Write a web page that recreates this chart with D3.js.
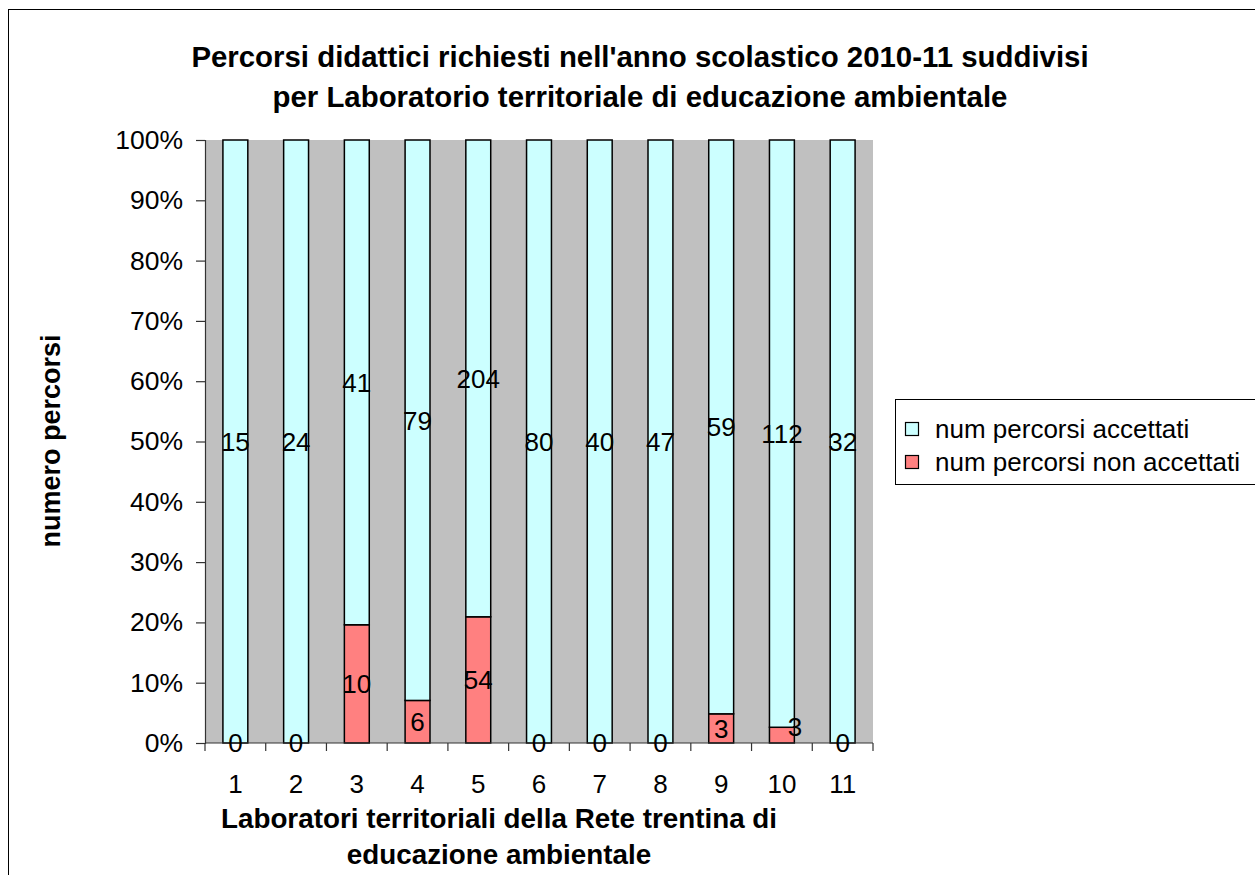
<!DOCTYPE html>
<html>
<head>
<meta charset="utf-8">
<script src="https://cdn.jsdelivr.net/npm/d3@7"></script>
<style>
  html, body { margin: 0; padding: 0; background: #fff; }
  svg text { font-family: "Liberation Sans", Arial, sans-serif; fill: #000; }
</style>
</head>
<body>
<svg id="chart" width="1255" height="875"></svg>
<script>
// Laboratories of the Trentino environmental education network
const categories = ["1", "2", "3", "4", "5", "6", "7", "8", "9", "10", "11"];
const seriesNames = ["num percorsi accettati", "num percorsi non accettati"];
const accepted = [15, 24, 41, 79, 204, 80, 40, 47, 59, 112, 32];
const rejected = [0, 0, 10, 6, 54, 0, 0, 0, 3, 3, 0];
const yTicks = [0, 0.1, 0.2, 0.3, 0.4, 0.5, 0.6, 0.7, 0.8, 0.9, 1];
const titleLines = [
  "Percorsi didattici richiesti nell'anno scolastico 2010-11 suddivisi",
  "per Laboratorio territoriale di educazione ambientale"
];
const xTitleLines = [
  "Laboratori territoriali della Rete trentina di",
  "educazione ambientale"
];
const yTitle = "numero percorsi";
const colors = ["#CCFFFF", "#FF8080"];

const svg = d3.select("#chart");
const plot = { left: 205, right: 873, top: 140, bottom: 743 };

// outer chart frame
svg.append("rect")
  .attr("x", 8.5).attr("y", 9.5)
  .attr("width", 1270).attr("height", 890)
  .attr("fill", "#fff").attr("stroke", "#000").attr("stroke-width", 1);

// plot background
svg.append("rect")
  .attr("x", plot.left).attr("y", plot.top)
  .attr("width", plot.right - plot.left).attr("height", plot.bottom - plot.top)
  .attr("fill", "#C0C0C0");

const table = categories.map((c, i) => ({ cat: c, r: rejected[i], a: accepted[i] }));

// non-accepted stacked at the bottom, accepted on top, normalised to 100%
const stack = d3.stack().keys(["r", "a"]).offset(d3.stackOffsetExpand);
const layers = stack(table);

const x = d3.scaleBand().domain(categories).range([plot.left, plot.right]).paddingInner(0.59).paddingOuter(0.295);
const xb = d3.scaleBand().domain(categories).range([plot.left, plot.right]);
const y = d3.scaleLinear().domain([0, 1]).range([plot.bottom, plot.top]);

const fillFor = { r: colors[1], a: colors[0] };

layers.forEach(layer => {
  svg.append("g").selectAll("rect")
    .data(layer)
    .join("rect")
    .attr("x", d => x(d.data.cat))
    .attr("width", x.bandwidth())
    .attr("y", d => y(d[1]))
    .attr("height", d => y(d[0]) - y(d[1]))
    .attr("fill", fillFor[layer.key])
    .attr("stroke", "#000")
    .attr("stroke-width", 1.5);
});

// y axis
const yAxis = svg.append("g")
  .attr("transform", `translate(${plot.left},0)`)
  .call(d3.axisLeft(y).tickValues(yTicks).tickFormat(d3.format(".0%")).tickSize(9).tickPadding(13));
yAxis.select(".domain").attr("stroke", "#333").attr("stroke-width", 1.2);
yAxis.selectAll(".tick line").attr("stroke", "#333").attr("stroke-width", 1.2);
yAxis.selectAll(".tick text").attr("font-size", 26.5).attr("font-family", "'Liberation Sans', Arial, sans-serif").attr("fill", "#000");

// x axis with ticks at category boundaries
const xAxisG = svg.append("g").attr("transform", `translate(0,${plot.bottom})`);
xAxisG.append("line")
  .attr("x1", plot.left).attr("x2", plot.right)
  .attr("stroke", "#333").attr("stroke-width", 1.2);
xAxisG.selectAll("line.b")
  .data(categories.concat(["end"]))
  .join("line")
  .attr("class", "b")
  .attr("x1", (d, i) => i < categories.length ? xb(d) : plot.right)
  .attr("x2", (d, i) => i < categories.length ? xb(d) : plot.right)
  .attr("y1", 0).attr("y2", 8)
  .attr("stroke", "#333").attr("stroke-width", 1.2);
xAxisG.selectAll("text")
  .data(categories)
  .join("text")
  .attr("x", d => xb(d) + xb.bandwidth() / 2)
  .attr("y", 50)
  .attr("text-anchor", "middle")
  .attr("font-size", 26)
  .text(d => d);

// data labels at the middle of each segment
layers.forEach(layer => {
  svg.append("g").selectAll("text")
    .data(layer)
    .join("text")
    .attr("x", d => {
      const h = y(d[0]) - y(d[1]);
      const cx = x(d.data.cat) + x.bandwidth() / 2;
      return (h > 0 && h < 20) ? cx + 13 : cx;
    })
    .attr("y", d => {
      const h = y(d[0]) - y(d[1]);
      const cy = (y(d[0]) + y(d[1])) / 2;
      return (h > 0 && h < 20) ? cy - 8 : cy;
    })
    .attr("dy", "0.36em")
    .attr("text-anchor", "middle")
    .attr("font-size", 26)
    .text(d => d.data[layer.key]);
});

// title
svg.append("g").selectAll("text")
  .data(titleLines)
  .join("text")
  .attr("x", 640)
  .attr("y", (d, i) => 67 + i * 40)
  .attr("text-anchor", "middle")
  .attr("font-size", 29.4)
  .attr("font-weight", "bold")
  .text(d => d);

// x axis title
svg.append("g").selectAll("text")
  .data(xTitleLines)
  .join("text")
  .attr("x", 499)
  .attr("y", (d, i) => 828 + i * 36)
  .attr("text-anchor", "middle")
  .attr("font-size", 27.8)
  .attr("font-weight", "bold")
  .text(d => d);

// y axis title
svg.append("text")
  .attr("transform", "translate(60,441) rotate(-90)")
  .attr("text-anchor", "middle")
  .attr("font-size", 27)
  .attr("font-weight", "bold")
  .text(yTitle);

// legend
const legend = svg.append("g");
legend.append("rect")
  .attr("x", 895.5).attr("y", 399.5)
  .attr("width", 400).attr("height", 85)
  .attr("fill", "#fff").attr("stroke", "#000").attr("stroke-width", 1);
const items = legend.selectAll("g.item")
  .data(seriesNames)
  .join("g")
  .attr("class", "item")
  .attr("transform", (d, i) => `translate(905,${422 + i * 33})`);
items.append("rect")
  .attr("x", 0.5).attr("y", 0.5)
  .attr("width", 13).attr("height", 13)
  .attr("fill", (d, i) => colors[i])
  .attr("stroke", "#000").attr("stroke-width", 1.2);
items.append("text")
  .attr("x", 30).attr("y", 7)
  .attr("dy", "0.36em")
  .attr("font-size", 26)
  .text(d => d);
</script>
</body>
</html>
